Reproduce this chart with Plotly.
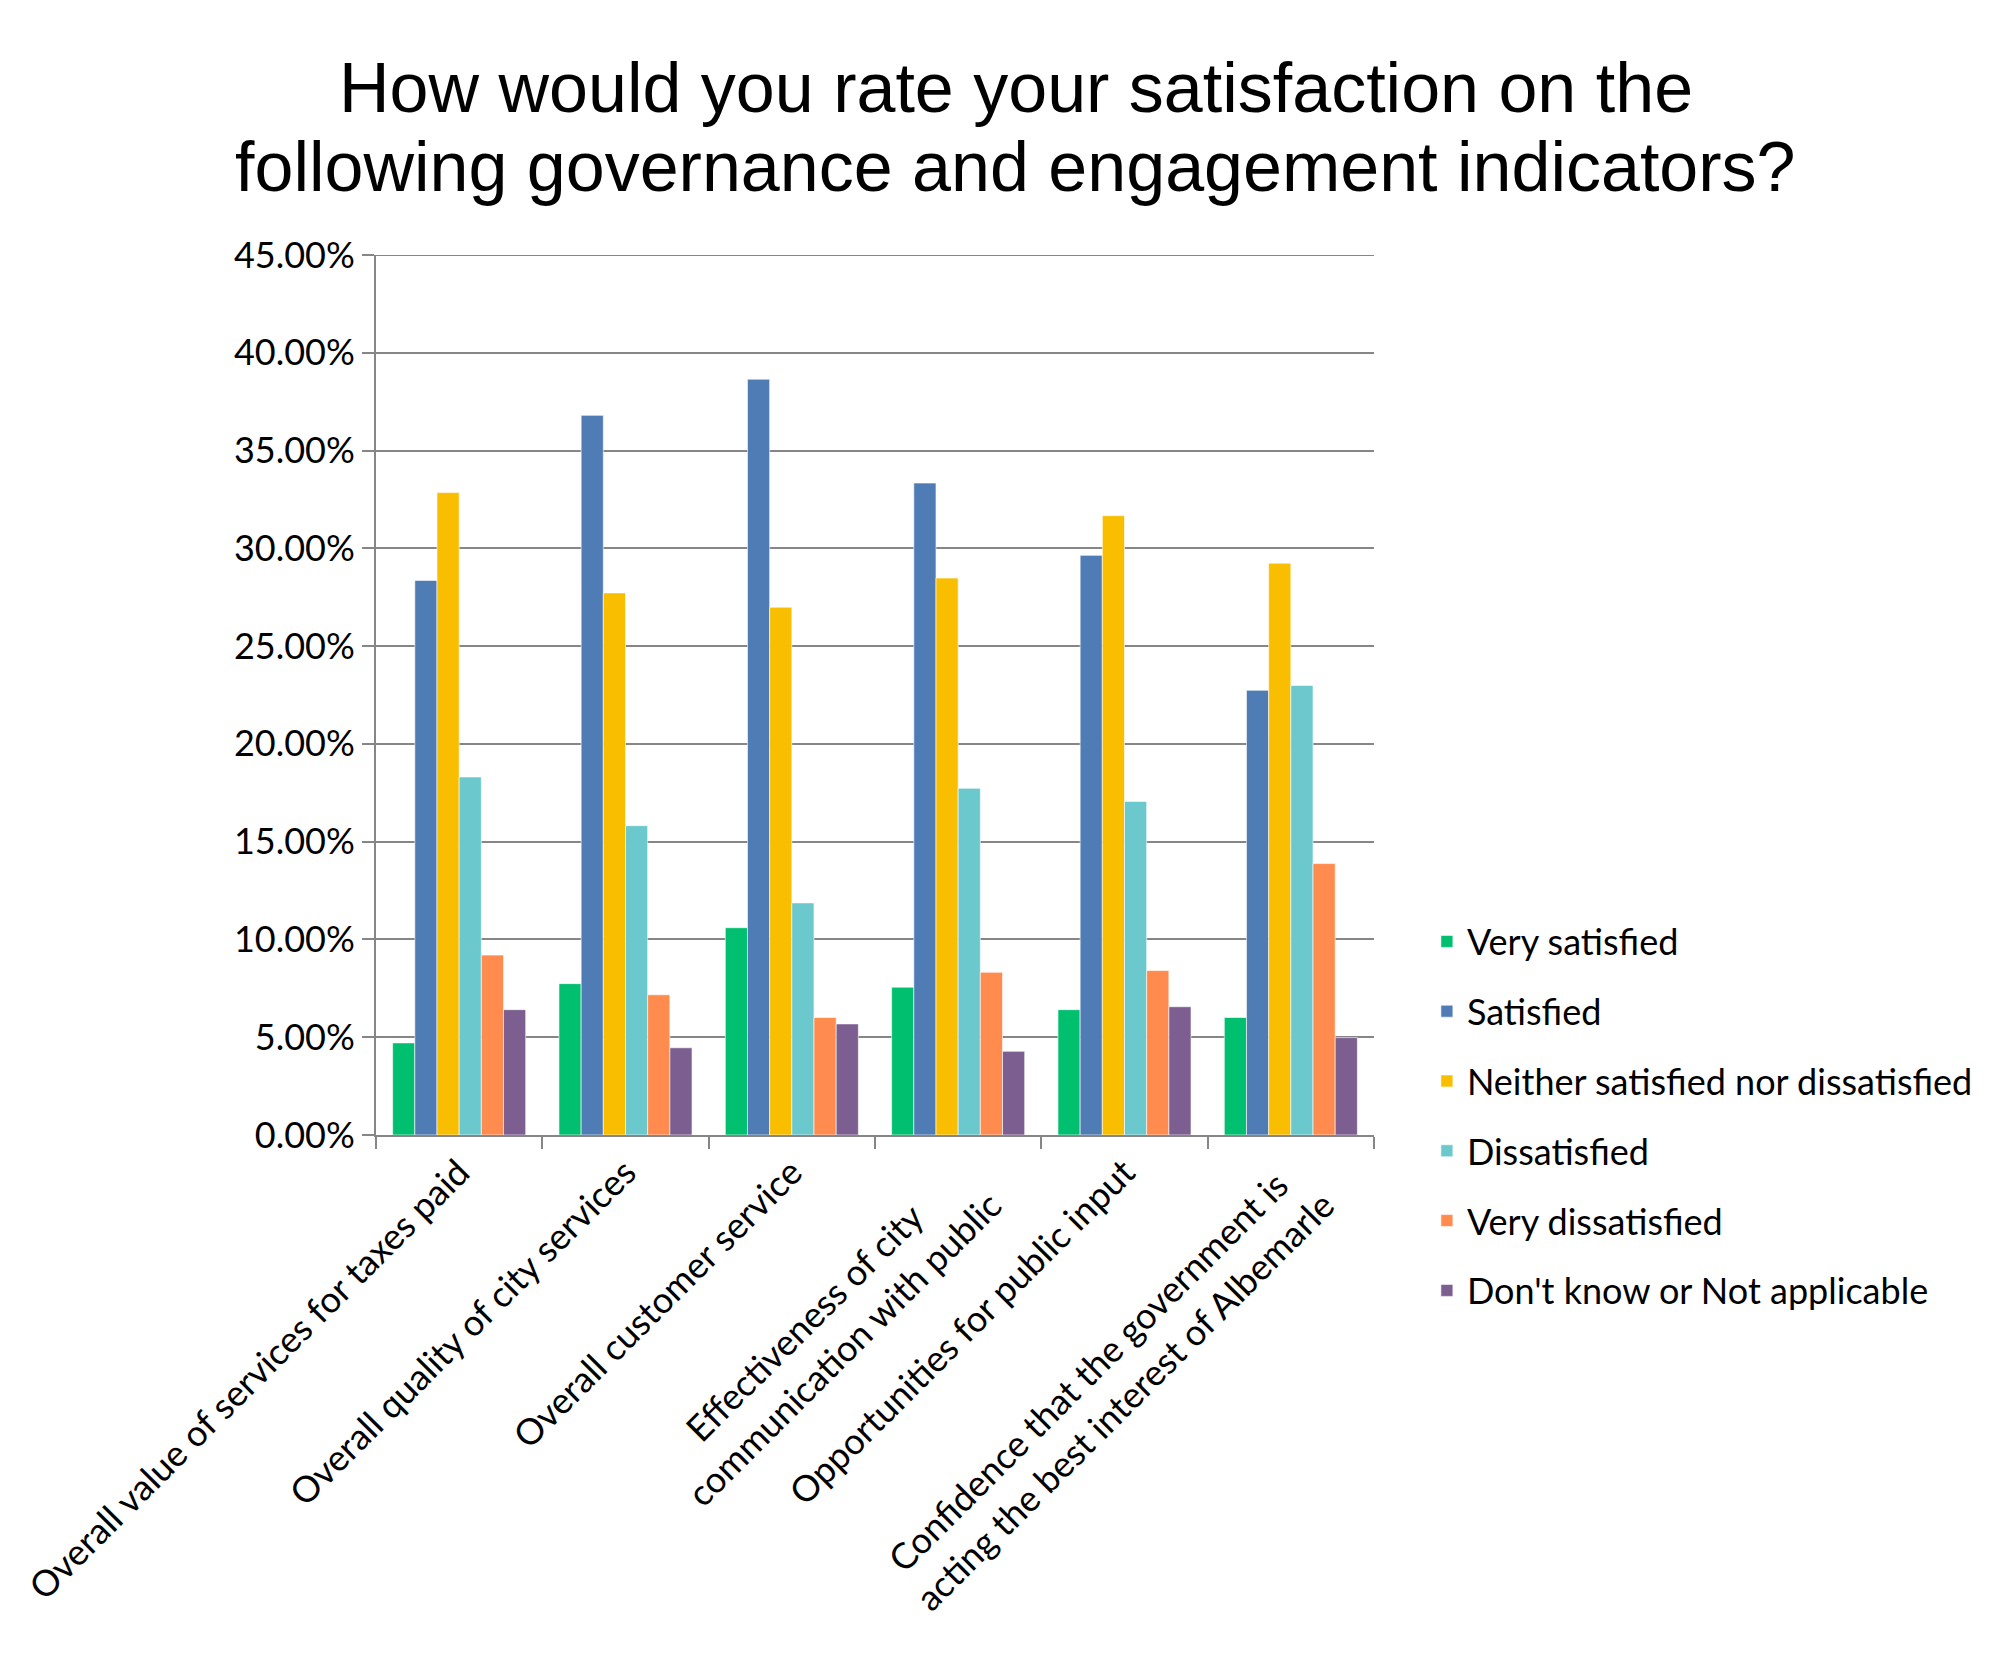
import plotly.graph_objects as go

NB = "\u00a0"

categories = [
    "Overall value of services for taxes paid",
    "Overall quality of city services",
    "Overall customer service",
    "Effectiveness of city" + NB * 7 + "<br>communication with public",
    "Opportunities for public input",
    "Confidence that the government is" + NB * 2 + "<br>acting the best interest of Albemarle",
]

series_names = [
    "Very satisfied",
    "Satisfied",
    "Neither satisfied nor dissatisfied",
    "Dissatisfied",
    "Very dissatisfied",
    "Don't know or Not applicable",
]

very_satisfied = [4.71, 7.74, 10.60, 7.56, 6.41, 6.01]
satisfied = [28.36, 36.80, 38.65, 33.34, 29.64, 22.74]
neither = [32.85, 27.72, 26.99, 28.48, 31.67, 29.24]
dissatisfied = [18.31, 15.82, 11.87, 17.73, 17.06, 22.99]
very_dissatisfied = [9.20, 7.17, 6.01, 8.32, 8.41, 13.88]
dont_know = [6.41, 4.46, 5.68, 4.28, 6.56, 4.98]

y_tick_values = [0, 5, 10, 15, 20, 25, 30, 35, 40, 45]
y_tick_labels = ["%.2f%%" % v for v in y_tick_values]

title_lines = [
    "How would you rate your satisfaction on the",
    "following governance and engagement indicators?",
]

colors = ["#00BF6F", "#507CB6", "#F9BE00", "#6BC8CD", "#FF8B4F", "#7D5E90"]

all_values = [very_satisfied, satisfied, neither, dissatisfied, very_dissatisfied, dont_know]

fig = go.Figure()
for i, (name, vals, col) in enumerate(zip(series_names, all_values, colors)):
    fig.add_trace(go.Bar(
        x=categories, y=vals, name=name, legendgroup=str(i),
        marker=dict(color=col, line=dict(color="rgba(255,255,255,0.6)", width=1)),
    ))

font_main = "Lato, 'Open Sans', sans-serif"
title_font = dict(family="'Liberation Sans', Arial, sans-serif", size=70, color="black")

# page body has an 8px default margin, so the figure is drawn slightly smaller
fig.update_layout(
    width=1984, height=1640,
    paper_bgcolor="white", plot_bgcolor="white",
    barmode="group", bargap=0.2, bargroupgap=0,
    margin=dict(l=361, r=618, t=247, b=513),
    font=dict(family=font_main, size=36, color="black"),
    legend=dict(
        x=1.053, xanchor="left", y=0.254, yanchor="top",
        traceorder="grouped", tracegroupgap=20,
        font=dict(family=font_main, size=36, color="black"),
        bgcolor="rgba(0,0,0,0)",
    ),
    showlegend=True,
    annotations=[
        dict(text=title_lines[0], xref="paper", yref="paper", x=0.641, y=1.19,
             xanchor="center", yanchor="middle", showarrow=False, font=title_font),
        dict(text=title_lines[1], xref="paper", yref="paper", x=0.641, y=1.10,
             xanchor="center", yanchor="middle", showarrow=False, font=title_font),
    ],
)

fig.update_xaxes(
    type="category", tickangle=-45, tickson="boundaries",
    ticks="outside", ticklen=12, tickcolor="#868686", tickwidth=2,
    showline=True, linecolor="#868686", linewidth=2,
    showgrid=False,
    tickfont=dict(family=font_main, size=36, color="black"),
)
fig.update_yaxes(
    range=[0, 45], tickmode="array", tickvals=y_tick_values, ticktext=y_tick_labels,
    ticks="outside", ticklen=12, tickcolor="#868686", tickwidth=2,
    showline=True, linecolor="#868686", linewidth=2,
    showgrid=True, gridcolor="#868686", gridwidth=2,
    zeroline=False,
    tickfont=dict(family=font_main, size=36, color="black"),
)

# the top gridline (at the last tick) sits on the plot edge; draw it explicitly
fig.add_hline(y=y_tick_values[-1], line=dict(color="#868686", width=2), layer="below")

fig.write_html("out.html")
